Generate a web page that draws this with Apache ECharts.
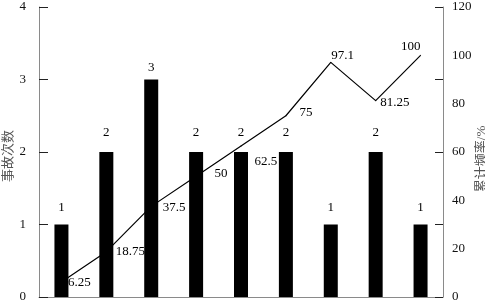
<!DOCTYPE html>
<html><head><meta charset="utf-8">
<script src="https://cdn.jsdelivr.net/npm/echarts@6/dist/echarts.min.js"></script>
<style>html,body{margin:0;padding:0;background:#fff}#c{width:485px;height:301px}</style>
</head><body><div id="c"></div>
<script>
const categories = ['1','2','3','4','5','6','7','8','9'];
const accidentCounts = [1, 2, 3, 2, 2, 2, 1, 2, 1];
const cumulativeFreq = [6.25, 18.75, 37.5, 50, 62.5, 75, 97.1, 81.25, 100];
const leftTicks = [0, 1, 2, 3, 4];
const rightTicks = [0, 20, 40, 60, 80, 100, 120];
const leftName = '事故次数';
const rightName = '累计频率/%';

// label placement styling (kept separate from data)
const lineLabelOffsets = [[6,1],[9,0],[11,1],[18,-3],[13,15.5],[13,-3],[0,-7],[4,2],[-20,-8.5]];
const barLabelGaps = [10,12.5,5,12.5,12.5,12.5,10,12.5,10];

const FONT = '"Liberation Serif", "Noto Sans CJK SC", serif';
const AXIS_LINE = '#8a8a8a';

const chart = echarts.init(document.getElementById('c'));
chart.setOption({
  animation: false,
  backgroundColor: '#fff',
  grid: { left: 39, right: 42, top: 7, bottom: 4, containLabel: false, outerBoundsMode: 'none' },
  xAxis: {
    type: 'category', data: categories,
    axisLine: { show: true, lineStyle: { color: AXIS_LINE, width: 1 } },
    axisTick: { show: false }, axisLabel: { show: false }, splitLine: { show: false }
  },
  yAxis: [
    {
      type: 'value', position: 'left', min: leftTicks[0], max: leftTicks[leftTicks.length-1], interval: 1,
      name: leftName, nameLocation: 'middle', nameRotate: 90, nameGap: 24, nameMoveOverlap: false,
      nameTextStyle: { fontFamily: FONT, fontSize: 13, color: '#555', padding: [0, 8, 0, 0] },
      axisLine: { show: true, lineStyle: { color: AXIS_LINE, width: 1 } },
      axisTick: { show: true, inside: true, length: 9, lineStyle: { color: '#222' } },
      axisLabel: { fontFamily: FONT, fontSize: 13, color: '#111', margin: 13 },
      splitLine: { show: false }
    },
    {
      type: 'value', position: 'right', min: rightTicks[0], max: rightTicks[rightTicks.length-1], interval: 20,
      name: rightName, nameLocation: 'middle', nameRotate: 90, nameGap: 32.5, nameMoveOverlap: false,
      nameTextStyle: { fontFamily: FONT, fontSize: 13, color: '#555', padding: [0, 14, 0, 0] },
      axisLine: { show: true, lineStyle: { color: AXIS_LINE, width: 1 } },
      axisTick: { show: false },
      axisLabel: { fontFamily: FONT, fontSize: 13, color: '#111', margin: 9 },
      splitLine: { show: false }
    },
    {
      type: 'value', position: 'right', min: leftTicks[0], max: leftTicks[leftTicks.length-1], interval: 1,
      axisLine: { show: false },
      axisTick: { show: true, inside: true, length: 8, lineStyle: { color: '#222' } },
      axisLabel: { show: false }, splitLine: { show: false }
    }
  ],
  series: [
    {
      type: 'line', yAxisIndex: 1,
      data: cumulativeFreq.map((v, i) => ({
        value: v,
        label: { offset: lineLabelOffsets[i] }
      })),
      symbol: 'circle', symbolSize: 1, showSymbol: true,
      lineStyle: { color: '#000', width: 1.2 },
      itemStyle: { color: '#000' },
      label: {
        show: true, position: 'right', distance: 0,
        fontFamily: FONT, fontSize: 13, color: '#000'
      },
      z: 2
    },
    {
      type: 'bar', yAxisIndex: 0,
      data: accidentCounts.map((v, i) => ({
        value: v,
        label: { distance: barLabelGaps[i] }
      })),
      barWidth: 14,
      itemStyle: { color: '#000' },
      label: { show: true, position: 'top', fontFamily: FONT, fontSize: 13, color: '#000' },
      z: 3
    }
  ]
});
</script>
</body></html>
